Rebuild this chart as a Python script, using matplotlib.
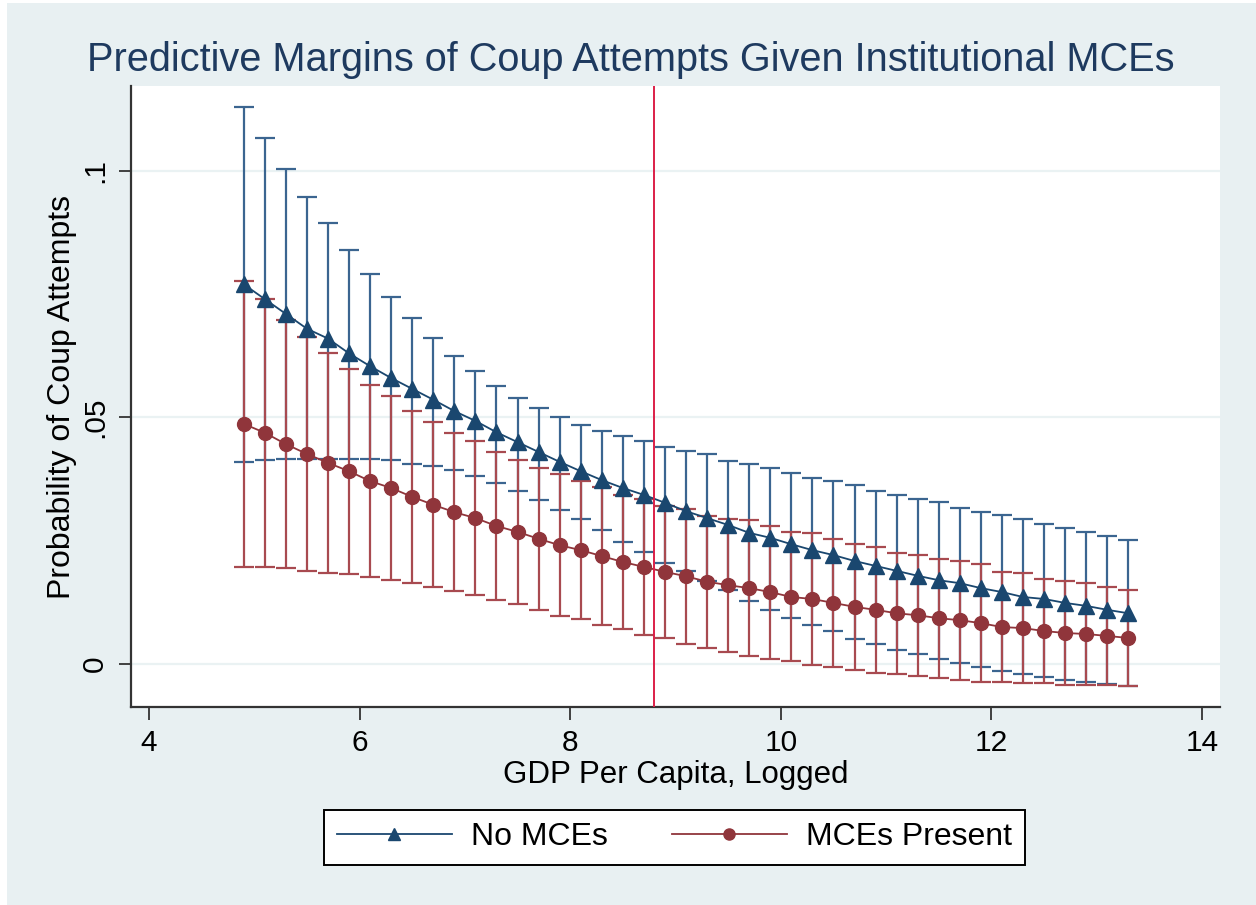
import numpy as np
import matplotlib
matplotlib.use('Agg')
import matplotlib.pyplot as plt
from matplotlib.patches import Rectangle

plt.rcParams['font.family'] = ['Liberation Sans', 'DejaVu Sans']

# GDP per capita (logged) grid used for the margins
gdp = [4.9, 5.1, 5.3, 5.5, 5.7, 5.9, 6.1, 6.3, 6.5, 6.7, 6.9, 7.1, 7.3, 7.5,
       7.7, 7.9, 8.1, 8.3, 8.5, 8.7, 8.9, 9.1, 9.3, 9.5, 9.7, 9.9, 10.1, 10.3,
       10.5, 10.7, 10.9, 11.1, 11.3, 11.5, 11.7, 11.9, 12.1, 12.3, 12.5, 12.7,
       12.9, 13.1, 13.3]

# No MCEs
no_mce = [.0770, .0740, .0710, .0680, .0660, .0630, .0604, .0580, .0558, .0536,
          .0513, .0493, .0470, .0450, .0430, .0410, .0391, .0373, .0357, .0343,
          .0327, .0310, .0296, .0282, .0266, .0256, .0243, .0231, .0221, .0209,
          .0199, .0189, .0179, .0170, .0164, .0154, .0146, .0136, .0132, .0124,
          .0118, .0110, .0103]
no_mce_hi = [.1130, .1067, .1004, .0947, .0895, .0840, .0790, .0744, .0702, .0661,
             .0625, .0594, .0564, .0540, .0520, .0500, .0485, .0473, .0462, .0452,
             .0440, .0432, .0426, .0412, .0406, .0398, .0387, .0377, .0371, .0363,
             .0351, .0343, .0335, .0329, .0316, .0308, .0302, .0294, .0284, .0276,
             .0268, .0260, .0252]
no_mce_lo = [.0410, .0414, .0416, .0416, .0416, .0416, .0416, .0414, .0406, .0402,
             .0394, .0381, .0367, .0351, .0333, .0312, .0294, .0272, .0247, .0227,
             .0205, .0188, .0168, .0150, .0128, .0110, .0093, .0079, .0067, .0051,
             .0041, .0028, .0020, .0010, .0002, -.0006, -.0014, -.0020, -.0026,
             -.0032, -.0036, -.0040, -.0045]

# MCEs present
mce = [.0487, .0469, .0446, .0426, .0408, .0391, .0371, .0357, .0339, .0323,
       .0308, .0296, .0280, .0268, .0254, .0241, .0231, .0219, .0207, .0197,
       .0187, .0178, .0167, .0160, .0154, .0146, .0136, .0132, .0124, .0116,
       .0110, .0103, .0099, .0093, .0089, .0083, .0075, .0073, .0067, .0063,
       .0061, .0057, .0053]
mce_hi = [.0777, .0741, .0697, .0663, .0631, .0599, .0565, .0544, .0514, .0490,
          .0468, .0452, .0430, .0414, .0398, .0385, .0371, .0359, .0343, .0335,
          .0321, .0315, .0301, .0295, .0292, .0280, .0268, .0266, .0254, .0244,
          .0238, .0226, .0222, .0214, .0210, .0202, .0186, .0185, .0173, .0169,
          .0165, .0157, .0151]
mce_lo = [.0197, .0197, .0195, .0189, .0185, .0183, .0177, .0170, .0164, .0156,
          .0148, .0140, .0130, .0122, .0110, .0097, .0091, .0079, .0071, .0059,
          .0053, .0041, .0033, .0025, .0016, .0010, .0006, -.0002, -.0006, -.0012,
          -.0018, -.0020, -.0024, -.0028, -.0032, -.0036, -.0036, -.0039, -.0039,
          -.0043, -.0043, -.0043, -.0045]

cutoff = 8.8
yticks = [0, .05, .1]
ytick_labels = ['0', '.05', '.1']
xticks = [4, 6, 8, 10, 12, 14]

BLUE = '#1a476f'
BLUE_CI = '#3b6590'
RED = '#90353b'
RED_CI = '#a84a50'
BG = '#e8f0f2'

fig = plt.figure(figsize=(12.56, 9.05), dpi=100, facecolor='white')
fig.patches.append(Rectangle((7 / 1256, 0), 1, 1 - 3 / 905, transform=fig.transFigure,
                             facecolor=BG, edgecolor='none', zorder=-10))
ax = fig.add_axes([131 / 1256, 1 - 707 / 905, (1220 - 131) / 1256, (707 - 86) / 905])
ax.set_facecolor('white')

gdp_arr = np.array(gdp)
no_mce = np.array(no_mce)
mce = np.array(mce)

ax.errorbar(gdp_arr, no_mce,
            yerr=[no_mce - np.array(no_mce_lo), np.array(no_mce_hi) - no_mce],
            fmt='none', ecolor=BLUE_CI, elinewidth=1.6, capsize=7, capthick=1.6, zorder=2)
ax.errorbar(gdp_arr, mce,
            yerr=[mce - np.array(mce_lo), np.array(mce_hi) - mce],
            fmt='none', ecolor=RED_CI, elinewidth=1.6, capsize=7, capthick=1.6, zorder=2)
ax.plot(gdp_arr, no_mce, color=BLUE, lw=1.3, marker='^', markersize=11,
        label='No MCEs', zorder=4)
ax.plot(gdp_arr, mce, color=RED, lw=1.3, marker='o', markersize=10,
        label='MCEs Present', zorder=3)

ax.axvline(cutoff, color='#dc1f48', lw=1.4, zorder=5)

ax.set_xlim(3.83, 14.17)
ax.set_ylim(-0.0087, 0.1172)
ax.set_xticks(xticks)
ax.set_yticks(yticks)
ax.set_yticklabels(ytick_labels, rotation=90, va='center')
ax.yaxis.grid(True, color='#eaf2f3', lw=1.6)
ax.set_axisbelow(True)

for s in ['top', 'right']:
    ax.spines[s].set_visible(False)
for s in ['left', 'bottom']:
    ax.spines[s].set_color('#333333')
    ax.spines[s].set_linewidth(1.6)
ax.tick_params(axis='both', length=9, width=1.3, color='#333333',
               labelsize=21.5, pad=7)

ax.set_xlabel('GDP Per Capita, Logged', fontsize=22.5, labelpad=2)
ax.set_ylabel('Probability of Coup Attempts', fontsize=23, labelpad=3)
fig.text(631 / 1256, 1 - 60 / 905,
         'Predictive Margins of Coup Attempts Given Institutional MCEs',
         fontsize=28.6, color='#1e3a5f', ha='center', va='center')

leg = fig.legend(loc='center', bbox_to_anchor=(0.537, 0.0746), ncol=2,
                 fontsize=23, frameon=True, fancybox=False, handlelength=3.6,
                 columnspacing=2.0, borderpad=0.4, handletextpad=0.6,
                 markerscale=0.8)
leg.get_frame().set_edgecolor('black')
leg.get_frame().set_facecolor('white')
leg.get_frame().set_alpha(1)
leg.get_frame().set_linewidth(1.4)

plt.savefig('out.png', dpi=100, facecolor=fig.get_facecolor())
